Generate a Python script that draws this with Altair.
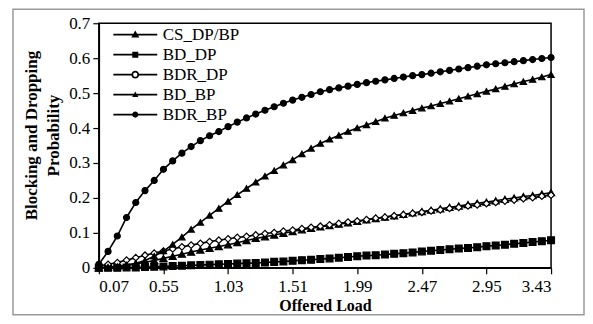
import altair as alt
import pandas as pd

loads = [0.0700, 0.1386, 0.2071, 0.2757, 0.3443, 0.4129, 0.4814, 0.5500, 0.6186, 0.6871,
         0.7557, 0.8243, 0.8929, 0.9614, 1.0300, 1.0986, 1.1671, 1.2357, 1.3043, 1.3729,
         1.4414, 1.5100, 1.5786, 1.6471, 1.7157, 1.7843, 1.8529, 1.9214, 1.9900, 2.0586,
         2.1271, 2.1957, 2.2643, 2.3329, 2.4014, 2.4700, 2.5386, 2.6071, 2.6757, 2.7443,
         2.8129, 2.8814, 2.9500, 3.0186, 3.0871, 3.1557, 3.2243, 3.2929, 3.3614, 3.4300]

series_names = ["CS_DP/BP", "BD_DP", "BDR_DP", "BD_BP", "BDR_BP"]

cs_dp_bp = [0.000, 0.002, 0.004, 0.007, 0.011, 0.016, 0.021, 0.027, 0.033, 0.039,
            0.045, 0.051, 0.056, 0.061, 0.066, 0.072, 0.078, 0.084, 0.089, 0.094,
            0.099, 0.104, 0.109, 0.113, 0.117, 0.121, 0.125, 0.129, 0.133, 0.137,
            0.141, 0.145, 0.149, 0.153, 0.157, 0.161, 0.165, 0.169, 0.173, 0.177,
            0.181, 0.185, 0.188, 0.192, 0.196, 0.200, 0.204, 0.207, 0.211, 0.215]

bd_dp = [0.000, 0.000, 0.000, 0.001, 0.001, 0.002, 0.003, 0.004, 0.005, 0.006,
         0.007, 0.008, 0.009, 0.010, 0.011, 0.012, 0.013, 0.014, 0.015, 0.017,
         0.018, 0.020, 0.022, 0.023, 0.025, 0.027, 0.029, 0.031, 0.033, 0.035,
         0.036, 0.038, 0.040, 0.042, 0.044, 0.047, 0.049, 0.051, 0.053, 0.055,
         0.057, 0.059, 0.062, 0.064, 0.066, 0.069, 0.071, 0.074, 0.076, 0.079]

bdr_dp = [0.005, 0.010, 0.015, 0.022, 0.029, 0.036, 0.042, 0.048, 0.054, 0.060,
          0.065, 0.070, 0.075, 0.079, 0.083, 0.087, 0.090, 0.094, 0.098, 0.101,
          0.105, 0.108, 0.112, 0.116, 0.119, 0.123, 0.127, 0.131, 0.134, 0.138,
          0.142, 0.145, 0.149, 0.152, 0.156, 0.159, 0.163, 0.166, 0.170, 0.173,
          0.177, 0.180, 0.184, 0.187, 0.191, 0.194, 0.198, 0.201, 0.205, 0.208]

bd_bp = [0.000, 0.002, 0.004, 0.008, 0.013, 0.021, 0.033, 0.048, 0.067, 0.088,
         0.110, 0.130, 0.150, 0.170, 0.190, 0.209, 0.227, 0.245, 0.262, 0.278,
         0.294, 0.309, 0.326, 0.342, 0.356, 0.368, 0.379, 0.390, 0.400, 0.409,
         0.418, 0.428, 0.436, 0.443, 0.450, 0.457, 0.463, 0.470, 0.477, 0.484,
         0.491, 0.498, 0.505, 0.512, 0.519, 0.526, 0.533, 0.539, 0.546, 0.553]

bdr_bp = [0.010, 0.047, 0.091, 0.144, 0.187, 0.221, 0.250, 0.282, 0.306, 0.328,
          0.347, 0.364, 0.378, 0.390, 0.404, 0.417, 0.429, 0.440, 0.451, 0.461,
          0.471, 0.480, 0.488, 0.496, 0.504, 0.510, 0.515, 0.520, 0.525, 0.530,
          0.534, 0.538, 0.542, 0.546, 0.550, 0.553, 0.557, 0.561, 0.565, 0.569,
          0.573, 0.577, 0.581, 0.584, 0.587, 0.590, 0.593, 0.596, 0.599, 0.602]

x_ticks = [0.07, 0.55, 1.03, 1.51, 1.99, 2.47, 2.95, 3.43]
y_ticks = [0, 0.1, 0.2, 0.3, 0.4, 0.5, 0.6, 0.7]

values = [cs_dp_bp, bd_dp, bdr_dp, bd_bp, bdr_bp]
rows = []
for name, vals in zip(series_names, values):
    for x, v in zip(loads, vals):
        rows.append({"load": x, "prob": v, "series": name})
df = pd.DataFrame(rows)

FONT = "'Liberation Serif', 'DejaVu Serif', serif"

x_enc = alt.X("load:Q", scale=alt.Scale(domain=[0.07, 3.43], nice=False, zero=False),
              axis=alt.Axis(values=x_ticks, format=".2f", title="Offered Load",
                            titleFontSize=16))
y_enc = alt.Y("prob:Q", scale=alt.Scale(domain=[0, 0.7], nice=False),
              axis=alt.Axis(values=y_ticks,
                            labelExpr="datum.value == 0 ? '0' : format(datum.value, '.1f')",
                            title=["Blocking and Dropping", "Probability"], titleY=112))

base = alt.Chart(df)

lines = base.mark_line(color="black", strokeWidth=1.6).encode(
    x=x_enc, y=y_enc, detail="series:N")

points = base.mark_point(filled=True, stroke="black", strokeWidth=1.2, opacity=1).encode(
    x=x_enc, y=y_enc,
    shape=alt.Shape("series:N", legend=None,
                    scale=alt.Scale(domain=series_names,
                                    range=["triangle-up", "square", "diamond", "triangle-up", "circle"])),
    fill=alt.Fill("series:N", legend=None,
                  scale=alt.Scale(domain=series_names,
                                  range=["black", "black", "white", "black", "black"])),
    size=alt.Size("series:N", legend=None,
                  scale=alt.Scale(domain=series_names, range=[50, 36, 40, 34, 34])),
)

# legend glyphs: a filled thin bar (the line) plus the marker, all filled black
LINE = "M-4.4,-0.17H4.4V0.17H-4.4Z"
legend_paths = [
    LINE + "M0,-0.85L0.8,0.55L-0.8,0.55Z",
    LINE + "M-0.6,-0.6H0.6V0.6H-0.6Z",
    "M-4.4,-0.17H-0.72V0.17H-4.4ZM0.72,-0.17H4.4V0.17H0.72Z"
    "M-0.78,0A0.78,0.78,0,1,1,0.78,0A0.78,0.78,0,1,1,-0.78,0Z"
    "M-0.42,0A0.42,0.42,0,1,0,0.42,0A0.42,0.42,0,1,0,-0.42,0Z",
    LINE + "M0,-0.62L0.62,0.46L-0.62,0.46Z",
    LINE + "M-0.62,0A0.62,0.62,0,1,1,0.62,0A0.62,0.62,0,1,1,-0.62,0Z",
]

leg = alt.Legend(title=None, orient="none", legendX=28, legendY=3,
                 labelFont=FONT, labelFontSize=17, labelColor="black",
                 labelOffset=19, symbolSize=100,
                 symbolFillColor="black", symbolStrokeWidth=0,
                 rowPadding=2, padding=0)

legend_layer = base.transform_filter("false").mark_point(
    filled=True, color="black", opacity=1).encode(
    x=x_enc, y=y_enc,
    shape=alt.Shape("series:N",
                    scale=alt.Scale(domain=series_names, range=legend_paths),
                    legend=leg),
)

frame = alt.Chart(pd.DataFrame({"a": [0]})).mark_rect(
    filled=False, stroke="#9a9a9a", strokeWidth=1.5).encode(
    x=alt.value(-86), x2=alt.value(486), y=alt.value(-14), y2=alt.value(292))

chart = alt.layer(frame, lines, points, legend_layer).resolve_scale(
    shape="independent"
).properties(
    width=453, height=245,
    padding={"left": 91, "top": 15, "right": 34, "bottom": 48},
    autosize=alt.AutoSizeParams(type="none"),
).configure(
    font=FONT
).configure_view(
    stroke="black", strokeWidth=1.5
).configure_axis(
    labelFont=FONT, titleFont=FONT, labelFontSize=17, titleFontSize=17,
    labelColor="black", titleColor="black", titleFontWeight="bold",
    domainColor="black", domainWidth=1.5, tickColor="black", tickWidth=1.2,
    tickSize=6, grid=False, labelPadding=3,
).configure_axisX(
    labelPadding=5, titlePadding=3
).configure_axisY(
    titlePadding=6, titleLineHeight=22
)

chart.save("out.html", embed_options={"renderer": "svg", "actions": False})
